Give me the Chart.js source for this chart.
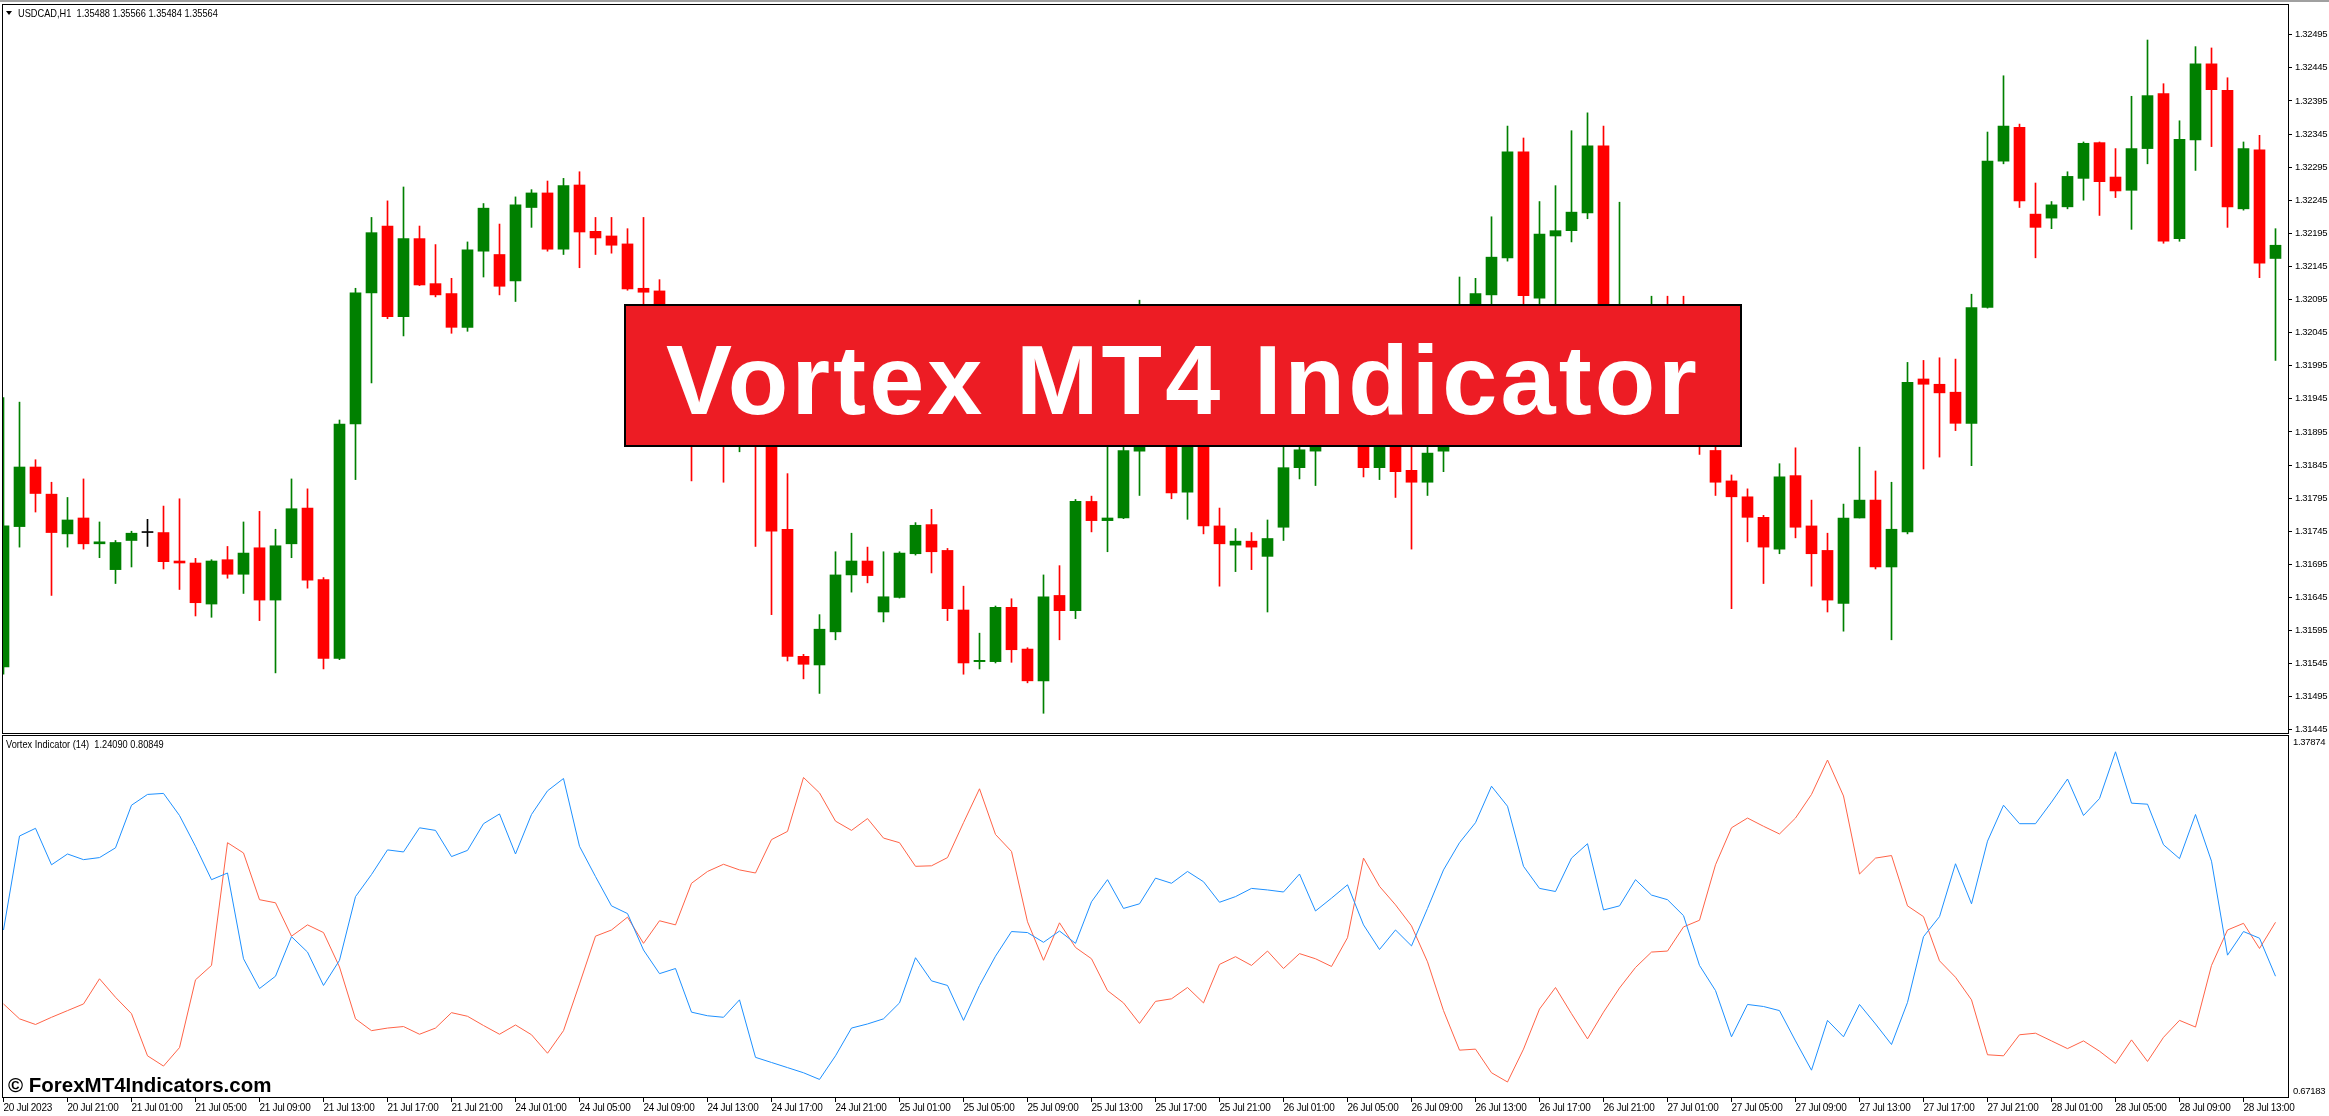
<!DOCTYPE html>
<html>
<head>
<meta charset="utf-8">
<title>Vortex MT4 Indicator</title>
<script src="https://cdn.jsdelivr.net/npm/chart.js@4.4.1/dist/chart.umd.min.js"></script>
<style>
  html, body { margin: 0; padding: 0; background: #fff; overflow: hidden; }
  body { width: 2329px; height: 1116px; position: relative; font-family: 'Liberation Sans', Arial, sans-serif; }
  #topLine { position: absolute; left: 0; top: 0; width: 2329px; height: 2px; background: #a0a0a0; }
  #priceCanvas { position: absolute; left: 0; top: 0; }
  #vortexCanvas { position: absolute; left: 0; top: 734px; }
  .hdr { position: absolute; font-size: 10.5px; line-height: 12px; color: #000; white-space: pre; transform: scaleX(0.88); transform-origin: 0 0; }
  #tri { position: absolute; left: 6px; top: 11px; width: 0; height: 0; border-left: 3px solid transparent; border-right: 3px solid transparent; border-top: 4px solid #000; }
  #banner { position: absolute; left: 624px; top: 304px; width: 1118px; height: 143px; box-sizing: border-box; border: 2px solid #000; background: #ed1c24; }
  #banner span { position: absolute; left: 0; right: 0; top: 24px; text-align: center; color: #fff; font: bold 99px/99px 'Liberation Sans', Arial, sans-serif; letter-spacing: 3.1px; white-space: nowrap; }
  #mark { position: absolute; left: 8px; top: 1075px; font: bold 20.5px/20px 'Liberation Sans', Arial, sans-serif; color: #000; white-space: nowrap; }
</style>
</head>
<body>
<div id="topLine"></div>
<canvas id="priceCanvas" width="2329" height="734"></canvas>
<canvas id="vortexCanvas" width="2329" height="382"></canvas>
<div id="tri"></div>
<div class="hdr" style="left:18px; top:7px;">USDCAD,H1  1.35488 1.35566 1.35484 1.35564</div>
<div class="hdr" style="left:6px; top:738px;">Vortex Indicator (14)  1.24090 0.80849</div>
<div id="banner"><span>Vortex MT4 Indicator</span></div>
<div id="mark">© ForexMT4Indicators.com</div>
<script>
// USDCAD H1 candles, 20 Jul 17:00 .. 28 Jul 15:00
const open = [
  1.31540, 1.31752, 1.31842, 1.31801, 1.31741, 1.31765, 1.31726, 1.31687, 1.31731, 1.31743,
  1.31743, 1.31700, 1.31697, 1.31635, 1.31702, 1.31680, 1.31720, 1.31641, 1.31726, 1.31780,
  1.31672, 1.31553, 1.31907, 1.32105, 1.32206, 1.32069, 1.32187, 1.32119, 1.32104, 1.32053,
  1.32168, 1.32163, 1.32123, 1.32234, 1.32256, 1.32171, 1.32268, 1.32198, 1.32191, 1.32179,
  1.32112, 1.32108, 1.32041, 1.31985, 1.31915, 1.31949, 1.31886, 1.31928, 1.31893, 1.31748,
  1.31556, 1.31543, 1.31593, 1.31679, 1.31700, 1.31623, 1.31645, 1.31711, 1.31755, 1.31716,
  1.31626, 1.31548, 1.31548, 1.31630, 1.31567, 1.31519, 1.31648, 1.31625, 1.31790, 1.31761,
  1.31765, 1.31866, 1.31998, 1.31928, 1.31804, 1.31915, 1.31753, 1.31724, 1.31730, 1.31707,
  1.31751, 1.31841, 1.31866, 1.31915, 1.31971, 1.31915, 1.31841, 1.31893, 1.31837, 1.31819,
  1.31866, 1.31985, 1.32041, 1.32102, 1.32158, 1.32318, 1.32097, 1.32191, 1.32199, 1.32226,
  1.32327, 1.31915, 1.31935, 1.31928, 1.31949, 1.31935, 1.31915, 1.31867, 1.31821, 1.31797,
  1.31766, 1.31718, 1.31829, 1.31753, 1.31716, 1.31636, 1.31765, 1.31792, 1.31691, 1.31744,
  1.31975, 1.31967, 1.31955, 1.31908, 1.32083, 1.32304, 1.32355, 1.32224, 1.32218, 1.32235,
  1.32278, 1.32332, 1.32280, 1.32260, 1.32323, 1.32406, 1.32187, 1.32336, 1.32451, 1.32411,
  1.32232, 1.32321, 1.32157
];
const high = [
  1.31947, 1.31940, 1.31853, 1.31819, 1.31796, 1.31824, 1.31759, 1.31731, 1.31745, 1.31763,
  1.31783, 1.31794, 1.31704, 1.31702, 1.31722, 1.31759, 1.31775, 1.31748, 1.31824, 1.31809,
  1.31675, 1.31913, 1.32112, 1.32219, 1.32244, 1.32265, 1.32206, 1.32178, 1.32127, 1.32182,
  1.32240, 1.32209, 1.32250, 1.32261, 1.32274, 1.32278, 1.32288, 1.32219, 1.32219, 1.32202,
  1.32219, 1.32125, 1.32055, 1.32013, 1.31971, 1.31985, 1.31942, 1.31957, 1.31915, 1.31832,
  1.31559, 1.31619, 1.31714, 1.31742, 1.31721, 1.31714, 1.31714, 1.31758, 1.31778, 1.31719,
  1.31662, 1.31591, 1.31632, 1.31643, 1.31569, 1.31679, 1.31693, 1.31793, 1.31798, 1.31879,
  1.31879, 1.32094, 1.32055, 1.31949, 1.31935, 1.31928, 1.31780, 1.31749, 1.31743, 1.31762,
  1.31886, 1.31886, 1.31942, 1.31998, 1.31992, 1.31942, 1.31915, 1.31915, 1.31886, 1.31879,
  1.32020, 1.32129, 1.32127, 1.32220, 1.32357, 1.32339, 1.32243, 1.32267, 1.32350, 1.32377,
  1.32357, 1.32242, 1.31971, 1.32100, 1.32100, 1.32100, 1.31942, 1.31886, 1.31830, 1.31809,
  1.31769, 1.31847, 1.31871, 1.31792, 1.31742, 1.31786, 1.31872, 1.31836, 1.31819, 1.32000,
  1.32003, 1.32007, 1.32005, 1.32103, 1.32348, 1.32433, 1.32360, 1.32271, 1.32243, 1.32288,
  1.32333, 1.32333, 1.32323, 1.32402, 1.32487, 1.32421, 1.32365, 1.32477, 1.32475, 1.32430,
  1.32333, 1.32343, 1.32202
];
const low = [
  1.31529, 1.31721, 1.31774, 1.31648, 1.31721, 1.31718, 1.31705, 1.31666, 1.31691, 1.31722,
  1.31688, 1.31657, 1.31617, 1.31615, 1.31674, 1.31651, 1.31610, 1.31531, 1.31705, 1.31659,
  1.31537, 1.31551, 1.31823, 1.31969, 1.32066, 1.32040, 1.32116, 1.32099, 1.32044, 1.32047,
  1.32129, 1.32102, 1.32092, 1.32204, 1.32168, 1.32163, 1.32143, 1.32163, 1.32165, 1.32109,
  1.32083, 1.32013, 1.31949, 1.31821, 1.31893, 1.31819, 1.31865, 1.31722, 1.31619, 1.31549,
  1.31522, 1.31500, 1.31581, 1.31653, 1.31667, 1.31608, 1.31644, 1.31709, 1.31682, 1.31610,
  1.31529, 1.31537, 1.31546, 1.31547, 1.31516, 1.31470, 1.31581, 1.31613, 1.31744, 1.31714,
  1.31764, 1.31799, 1.31900, 1.31794, 1.31763, 1.31741, 1.31662, 1.31684, 1.31687, 1.31623,
  1.31731, 1.31824, 1.31814, 1.31893, 1.31879, 1.31827, 1.31823, 1.31796, 1.31718, 1.31799,
  1.31835, 1.31971, 1.32027, 1.32083, 1.32153, 1.32083, 1.32055, 1.32041, 1.32182, 1.32217,
  1.31915, 1.31893, 1.31900, 1.31915, 1.31915, 1.31893, 1.31861, 1.31799, 1.31628, 1.31729,
  1.31666, 1.31711, 1.31735, 1.31662, 1.31623, 1.31594, 1.31765, 1.31688, 1.31581, 1.31741,
  1.31839, 1.31857, 1.31897, 1.31844, 1.32082, 1.32300, 1.32234, 1.32158, 1.32202, 1.32232,
  1.32245, 1.32222, 1.32249, 1.32201, 1.32300, 1.32180, 1.32183, 1.32290, 1.32326, 1.32204,
  1.32230, 1.32128, 1.32003
];
const close = [
  1.31753, 1.31842, 1.31802, 1.31743, 1.31762, 1.31726, 1.31729, 1.31728, 1.31742, 1.31743,
  1.31699, 1.31697, 1.31637, 1.31700, 1.31680, 1.31712, 1.31641, 1.31723, 1.31779, 1.31671,
  1.31553, 1.31907, 1.32105, 1.32196, 1.32069, 1.32187, 1.32117, 1.32102, 1.32053, 1.32170,
  1.32233, 1.32115, 1.32238, 1.32256, 1.32171, 1.32267, 1.32197, 1.32188, 1.32177, 1.32111,
  1.32106, 1.32041, 1.31985, 1.31915, 1.31949, 1.31886, 1.31928, 1.31893, 1.31745, 1.31556,
  1.31544, 1.31597, 1.31679, 1.31700, 1.31678, 1.31646, 1.31712, 1.31754, 1.31714, 1.31628,
  1.31546, 1.31550, 1.31630, 1.31566, 1.31519, 1.31646, 1.31625, 1.31790, 1.31761, 1.31765,
  1.31867, 1.31998, 1.31928, 1.31803, 1.31915, 1.31753, 1.31726, 1.31730, 1.31721, 1.31734,
  1.31841, 1.31868, 1.31915, 1.31971, 1.31915, 1.31841, 1.31893, 1.31835, 1.31819, 1.31863,
  1.31985, 1.32055, 1.32104, 1.32159, 1.32318, 1.32101, 1.32194, 1.32199, 1.32227, 1.32327,
  1.31949, 1.31935, 1.31928, 1.31949, 1.31935, 1.31915, 1.31886, 1.31819, 1.31797, 1.31766,
  1.31721, 1.31827, 1.31751, 1.31711, 1.31641, 1.31765, 1.31792, 1.31691, 1.31748, 1.31970,
  1.31967, 1.31954, 1.31908, 1.32083, 1.32304, 1.32357, 1.32244, 1.32204, 1.32238, 1.32281,
  1.32331, 1.32273, 1.32259, 1.32323, 1.32403, 1.32183, 1.32337, 1.32451, 1.32412, 1.32235,
  1.32323, 1.32150, 1.32177
];

// Vortex Indicator (14)
const viPlus = [
  0.999, 1.182, 1.197, 1.126, 1.147, 1.136, 1.140, 1.159, 1.242, 1.263,
  1.265, 1.222, 1.162, 1.097, 1.110, 0.943, 0.885, 0.909, 0.986, 0.956,
  0.891, 0.940, 1.064, 1.107, 1.155, 1.151, 1.198, 1.193, 1.142, 1.154,
  1.206, 1.225, 1.147, 1.224, 1.270, 1.294, 1.162, 1.103, 1.046, 1.031,
  0.960, 0.914, 0.924, 0.839, 0.832, 0.829, 0.863, 0.751, 0.741, 0.731,
  0.721, 0.708, 0.754, 0.808, 0.816, 0.826, 0.857, 0.945, 0.900, 0.891,
  0.823, 0.891, 0.948, 0.996, 0.994, 0.975, 0.997, 0.973, 1.054, 1.097,
  1.041, 1.050, 1.100, 1.090, 1.113, 1.093, 1.053, 1.064, 1.080, 1.077,
  1.073, 1.108, 1.036, 1.061, 1.087, 1.009, 0.961, 0.999, 0.968, 1.041,
  1.116, 1.169, 1.208, 1.279, 1.240, 1.123, 1.080, 1.074, 1.139, 1.167,
  1.038, 1.046, 1.097, 1.067, 1.058, 1.027, 0.930, 0.881, 0.791, 0.854,
  0.850, 0.842, 0.783, 0.726, 0.823, 0.791, 0.854, 0.816, 0.776, 0.858,
  0.986, 1.025, 1.128, 1.050, 1.172, 1.242, 1.206, 1.206, 1.248, 1.293,
  1.222, 1.255, 1.346, 1.246, 1.244, 1.165, 1.138, 1.224, 1.133, 0.950,
  0.996, 0.983, 0.909
];
const viMinus = [
  0.855, 0.826, 0.815, 0.829, 0.842, 0.855, 0.904, 0.868, 0.836, 0.754,
  0.734, 0.770, 0.902, 0.930, 1.169, 1.149, 1.058, 1.052, 0.987, 1.009,
  0.994, 0.927, 0.826, 0.803, 0.808, 0.811, 0.796, 0.808, 0.838, 0.831,
  0.813, 0.796, 0.814, 0.795, 0.759, 0.803, 0.894, 0.987, 0.999, 1.024,
  0.973, 1.017, 1.009, 1.090, 1.113, 1.127, 1.116, 1.110, 1.175, 1.191,
  1.296, 1.266, 1.211, 1.193, 1.216, 1.178, 1.169, 1.123, 1.124, 1.140,
  1.208, 1.274, 1.185, 1.152, 1.015, 0.940, 1.013, 0.965, 0.943, 0.881,
  0.857, 0.817, 0.860, 0.865, 0.887, 0.857, 0.932, 0.947, 0.930, 0.958,
  0.924, 0.953, 0.943, 0.928, 0.984, 1.139, 1.084, 1.048, 1.007, 0.937,
  0.842, 0.765, 0.767, 0.721, 0.703, 0.767, 0.845, 0.887, 0.836, 0.787,
  0.839, 0.886, 0.926, 0.956, 0.958, 1.005, 1.018, 1.126, 1.198, 1.217,
  1.201, 1.186, 1.217, 1.263, 1.330, 1.260, 1.108, 1.139, 1.144, 1.046,
  1.025, 0.939, 0.907, 0.863, 0.756, 0.754, 0.795, 0.798, 0.783, 0.768,
  0.783, 0.763, 0.739, 0.785, 0.743, 0.790, 0.823, 0.810, 0.930, 0.999,
  1.012, 0.963, 1.014
];

// axis labels
const priceTicks = [
  1.31445, 1.31495, 1.31545, 1.31595, 1.31645, 1.31695, 1.31745, 1.31795, 1.31845, 1.31895, 1.31945,
  1.31995, 1.32045, 1.32095, 1.32145, 1.32195, 1.32245, 1.32295, 1.32345, 1.32395, 1.32445, 1.32495
];
const timeLabels = [
  '20 Jul 2023', '20 Jul 21:00',
  '21 Jul 01:00', '21 Jul 05:00', '21 Jul 09:00', '21 Jul 13:00', '21 Jul 17:00', '21 Jul 21:00',
  '24 Jul 01:00', '24 Jul 05:00', '24 Jul 09:00', '24 Jul 13:00', '24 Jul 17:00', '24 Jul 21:00',
  '25 Jul 01:00', '25 Jul 05:00', '25 Jul 09:00', '25 Jul 13:00', '25 Jul 17:00', '25 Jul 21:00',
  '26 Jul 01:00', '26 Jul 05:00', '26 Jul 09:00', '26 Jul 13:00', '26 Jul 17:00', '26 Jul 21:00',
  '27 Jul 01:00', '27 Jul 05:00', '27 Jul 09:00', '27 Jul 13:00', '27 Jul 17:00', '27 Jul 21:00',
  '28 Jul 01:00', '28 Jul 05:00', '28 Jul 09:00', '28 Jul 13:00'
];
const labelEvery = 4; // one time label every 4 bars

// scale ranges
const priceMin = 1.314387, priceMax = 1.325414;
const viMin = 0.67183, viMax = 1.37874;
const xMin = -0.09375, xMax = 142.84375;

const FONT = "'Liberation Sans', Arial, sans-serif";
Chart.defaults.font.family = FONT;
Chart.defaults.font.size = 9.5;
Chart.defaults.color = '#000';

const bars = open.map((_, i) => i);
const candleColor = open.map((o, i) => close[i] > o ? '#008000' : (close[i] < o ? '#ff0000' : '#000000'));

// terminal text is narrow: tighten the letters on the canvas
const tightText = {
  id: 'tightText',
  beforeLayout(chart) { chart.ctx.letterSpacing = '-0.3px'; },
  beforeDraw(chart) { chart.ctx.letterSpacing = '-0.3px'; }
};

// black frame round the plot area, like the terminal
const frame = {
  id: 'frame',
  afterDraw(chart) {
    const a = chart.chartArea, ctx = chart.ctx;
    ctx.save();
    ctx.strokeStyle = '#000';
    ctx.lineWidth = 1;
    ctx.strokeRect(a.left + 0.5, a.top + 0.5, a.right - a.left - 1, a.bottom - a.top - 1);
    ctx.restore();
  }
};

// max / min of the indicator window, written inside the corners
const rangeLabels = {
  id: 'rangeLabels',
  afterDraw(chart) {
    const y = chart.scales.y, a = chart.chartArea, ctx = chart.ctx;
    ctx.save();
    ctx.font = '9.5px ' + FONT;
    ctx.fillStyle = '#000';
    ctx.textBaseline = 'alphabetic';
    ctx.fillText(y.max.toFixed(5), a.right + 4, a.top + 10);
    ctx.fillText(y.min.toFixed(5), a.right + 4, a.bottom - 4);
    ctx.restore();
  }
};

new Chart(document.getElementById('priceCanvas'), {
  type: 'bar',
  data: {
    datasets: [
      {
        label: 'wick',
        data: bars.map(i => ({ x: i, y: [low[i], high[i]] })),
        backgroundColor: candleColor,
        barThickness: 1,
        grouped: false,
        order: 2
      },
      {
        label: 'body',
        data: bars.map(i => ({ x: i, y: [open[i], close[i]] })),
        backgroundColor: candleColor,
        barThickness: 11,
        minBarLength: 1,
        grouped: false,
        order: 1
      }
    ]
  },
  options: {
    responsive: false,
    animation: false,
    layout: { padding: { left: 2, top: 4, right: 0, bottom: 0 } },
    plugins: { legend: { display: false }, tooltip: { enabled: false } },
    scales: {
      x: {
        type: 'linear', min: xMin, max: xMax, offset: false, display: false,
        grid: { offset: false }
      },
      y: {
        position: 'right', min: priceMin, max: priceMax,
        grid: { drawOnChartArea: false, drawTicks: true, tickLength: 3, color: '#000' },
        border: { display: false },
        ticks: { padding: 3, callback: v => v.toFixed(5) },
        afterBuildTicks: s => { s.ticks = priceTicks.map(v => ({ value: v })); },
        afterFit: s => { s.width = 40; s.paddingTop = 0; s.paddingBottom = 0; }
      }
    }
  },
  plugins: [tightText, frame]
});

new Chart(document.getElementById('vortexCanvas'), {
  type: 'line',
  data: {
    datasets: [
      {
        label: 'VI+',
        data: bars.map(i => ({ x: i, y: viPlus[i] })),
        borderColor: '#1e90ff',
        borderWidth: 1,
        pointRadius: 0,
        tension: 0
      },
      {
        label: 'VI-',
        data: bars.map(i => ({ x: i, y: viMinus[i] })),
        borderColor: '#ff6347',
        borderWidth: 1,
        pointRadius: 0,
        tension: 0
      }
    ]
  },
  options: {
    responsive: false,
    animation: false,
    layout: { padding: { left: 2, top: 1, right: 0, bottom: 0 } },
    plugins: { legend: { display: false }, tooltip: { enabled: false } },
    scales: {
      x: {
        type: 'linear', min: xMin, max: xMax, offset: false,
        grid: { drawOnChartArea: false, drawTicks: true, tickLength: 4, color: '#000', offset: false },
        border: { display: false },
        ticks: {
          align: 'start', padding: 0, autoSkip: false, maxRotation: 0, minRotation: 0,
          font: { size: 10 },
          callback: v => timeLabels[Math.round(v / labelEvery)]
        },
        afterBuildTicks: s => { s.ticks = timeLabels.map((t, k) => ({ value: k * labelEvery })); },
        afterFit: s => { s.height = 18; s.paddingLeft = 0; s.paddingRight = 0; }
      },
      y: {
        position: 'right', min: viMin, max: viMax,
        grid: { display: false },
        border: { display: false },
        ticks: { display: false },
        afterFit: s => { s.width = 40; s.paddingTop = 0; s.paddingBottom = 0; }
      }
    }
  },
  plugins: [tightText, frame, rangeLabels]
});
</script>
</body>
</html>
